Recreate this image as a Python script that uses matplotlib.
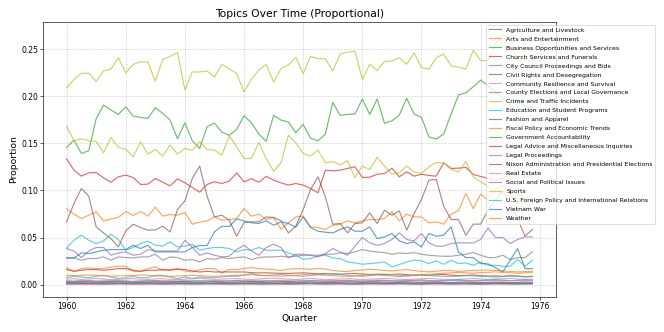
import matplotlib

matplotlib.use("Agg")
import matplotlib.pyplot as plt  # noqa: E402
import pandas as pd  # noqa: E402

# quarterly periods, 1960Q1 .. 1975Q4
periods = pd.period_range("1960Q1", "1975Q4", freq="Q")

agriculture = [
    0.0015, 0.0017, 0.0014, 0.0012, 0.0015, 0.0018, 0.0016, 0.0013,
    0.0015, 0.0017, 0.0019, 0.0016, 0.0014, 0.0016, 0.0018, 0.0015,
    0.0013, 0.0015, 0.0017, 0.0014, 0.0012, 0.0014, 0.0016, 0.0018,
    0.0015, 0.0013, 0.0015, 0.0017, 0.0014, 0.0012, 0.0015, 0.0017,
    0.0019, 0.0016, 0.0014, 0.0016, 0.0018, 0.0015, 0.0013, 0.0015,
    0.0017, 0.0014, 0.0012, 0.0014, 0.0016, 0.0018, 0.0015, 0.0013,
    0.0015, 0.0017, 0.0014, 0.0012, 0.0014, 0.0016, 0.0013, 0.0011,
    0.0014, 0.0016, 0.0013, 0.0011, 0.0013, 0.0015, 0.0012, 0.0013,
]
arts = [
    0.0805, 0.0748, 0.0702, 0.0737, 0.0773, 0.0677, 0.0698, 0.0713,
    0.0777, 0.0734, 0.0777, 0.0727, 0.0822, 0.0727, 0.0745, 0.0737,
    0.0766, 0.0642, 0.0663, 0.0677, 0.0719, 0.0684, 0.0691, 0.0702,
    0.0808, 0.0727, 0.0748, 0.0691, 0.0713, 0.0588, 0.0656, 0.0719,
    0.0727, 0.0613, 0.0606, 0.0585, 0.0631, 0.0642, 0.0677, 0.0656,
    0.0677, 0.0691, 0.0691, 0.0702, 0.0773, 0.0677, 0.0748, 0.0719,
    0.0719, 0.0656, 0.0666, 0.0642, 0.0748, 0.0784, 0.0968, 0.0808,
    0.0961, 0.0897, 0.102, 0.105, 0.095, 0.088, 0.080, 0.085,
]
business = [
    0.1457, 0.1535, 0.1393, 0.1421, 0.1762, 0.1907, 0.1854, 0.1808,
    0.189, 0.179, 0.1776, 0.1766, 0.1879, 0.1819, 0.1748, 0.1549,
    0.1719, 0.1528, 0.1447, 0.1677, 0.1716, 0.162, 0.1585, 0.1649,
    0.1794, 0.1719, 0.1599, 0.1521, 0.1798, 0.1748, 0.1727, 0.1613,
    0.1702, 0.1553, 0.1528, 0.1599, 0.1936, 0.1798, 0.1808, 0.1812,
    0.1971, 0.1808, 0.1971, 0.1713, 0.174, 0.1801, 0.1979, 0.1812,
    0.1776, 0.157, 0.1546, 0.1599, 0.1812, 0.2014, 0.2038, 0.2102,
    0.2173, 0.211, 0.205, 0.198, 0.192, 0.195, 0.190, 0.188,
]
church = [
    0.1336, 0.1216, 0.1152, 0.1187, 0.1191, 0.1134, 0.1088, 0.1145,
    0.1163, 0.1138, 0.1064, 0.1067, 0.1128, 0.1088, 0.1049, 0.1124,
    0.1081, 0.1032, 0.0982, 0.1064, 0.1092, 0.1074, 0.1099, 0.1187,
    0.1092, 0.1124, 0.1088, 0.1149, 0.111, 0.1081, 0.1057, 0.1074,
    0.1057, 0.1021, 0.0975, 0.1216, 0.1209, 0.1216, 0.1234, 0.1252,
    0.1138, 0.1141, 0.1173, 0.118, 0.1237, 0.1145, 0.1198, 0.1152,
    0.1173, 0.1159, 0.1152, 0.1294, 0.1234, 0.1237, 0.1245, 0.117,
    0.1149, 0.1128, 0.111, 0.113, 0.117, 0.120, 0.114, 0.118,
]
city_council = [
    0.0009, 0.0011, 0.0008, 0.001, 0.0012, 0.0009, 0.0007, 0.001,
    0.0011, 0.0009, 0.0008, 0.001, 0.0012, 0.001, 0.0008, 0.0009,
    0.0011, 0.0009, 0.0007, 0.0009, 0.0011, 0.0012, 0.001, 0.0008,
    0.0009, 0.0011, 0.0009, 0.0007, 0.0009, 0.0011, 0.001, 0.0008,
    0.001, 0.0012, 0.001, 0.0008, 0.0009, 0.0011, 0.0009, 0.0007,
    0.0009, 0.0011, 0.0012, 0.001, 0.0008, 0.0009, 0.0011, 0.0009,
    0.0008, 0.001, 0.0012, 0.001, 0.0008, 0.0009, 0.0011, 0.0009,
    0.0007, 0.0009, 0.0011, 0.001, 0.0008, 0.0009, 0.0011, 0.0009,
]
civil_rights = [
    0.0006, 0.0005, 0.0007, 0.0006, 0.0004, 0.0005, 0.0007, 0.0008,
    0.0006, 0.0005, 0.0006, 0.0007, 0.0005, 0.0004, 0.0006, 0.0007,
    0.0006, 0.0005, 0.0007, 0.0008, 0.0006, 0.0005, 0.0004, 0.0006,
    0.0007, 0.0006, 0.0005, 0.0006, 0.0007, 0.0005, 0.0004, 0.0006,
    0.0007, 0.0008, 0.0006, 0.0005, 0.0006, 0.0007, 0.0005, 0.0004,
    0.0006, 0.0007, 0.0006, 0.0005, 0.0007, 0.0008, 0.0006, 0.0005,
    0.0004, 0.0006, 0.0007, 0.0006, 0.0005, 0.0006, 0.0007, 0.0005,
    0.0004, 0.0006, 0.0007, 0.0008, 0.0006, 0.0005, 0.0006, 0.0007,
]
community = [
    0.0058, 0.0062, 0.0055, 0.006, 0.0065, 0.0058, 0.0052, 0.0056,
    0.006, 0.0064, 0.0058, 0.0055, 0.006, 0.0062, 0.0057, 0.0053,
    0.0058, 0.0062, 0.0066, 0.006, 0.0055, 0.0058, 0.0062, 0.0064,
    0.0058, 0.0055, 0.006, 0.0065, 0.0068, 0.0062, 0.0058, 0.0055,
    0.006, 0.0064, 0.0058, 0.0052, 0.0056, 0.006, 0.0063, 0.0058,
    0.0054, 0.0058, 0.0062, 0.0066, 0.0062, 0.0057, 0.0054, 0.0058,
    0.0061, 0.0065, 0.006, 0.0056, 0.0052, 0.0056, 0.006, 0.0064,
    0.0059, 0.0055, 0.0058, 0.0062, 0.0066, 0.006, 0.0056, 0.0058,
]
county = [
    0.0283, 0.0283, 0.0259, 0.0277, 0.0277, 0.0294, 0.0259, 0.0294,
    0.0287, 0.0283, 0.0294, 0.0294, 0.0322, 0.0259, 0.0294, 0.0287,
    0.0259, 0.0266, 0.0241, 0.0277, 0.0269, 0.0287, 0.0277, 0.0287,
    0.0294, 0.0266, 0.0287, 0.0294, 0.0294, 0.0301, 0.0294, 0.0301,
    0.0312, 0.0312, 0.0312, 0.0322, 0.0322, 0.0336, 0.033, 0.0347,
    0.0372, 0.0357, 0.0347, 0.034, 0.0322, 0.0336, 0.033, 0.034,
    0.0322, 0.0312, 0.0305, 0.0301, 0.0301, 0.0312, 0.0323, 0.034,
    0.0312, 0.0287, 0.0287, 0.0312, 0.0266, 0.0287, 0.0287, 0.0347,
]
crime = [
    0.1684, 0.1528, 0.1549, 0.1528, 0.1521, 0.14, 0.1564, 0.1457,
    0.1439, 0.1358, 0.1517, 0.1386, 0.1436, 0.1365, 0.1482, 0.1386,
    0.1447, 0.1426, 0.1517, 0.1436, 0.1429, 0.1376, 0.1581, 0.1464,
    0.134, 0.134, 0.1511, 0.134, 0.1205, 0.1294, 0.1588, 0.1505,
    0.1393, 0.1365, 0.1429, 0.1294, 0.1305, 0.1273, 0.1316, 0.1135,
    0.1259, 0.1223, 0.1351, 0.1259, 0.1173, 0.1188, 0.1259, 0.1198,
    0.118, 0.1252, 0.1298, 0.1291, 0.1227, 0.1198, 0.1308, 0.1145,
    0.1092, 0.1046, 0.100, 0.096, 0.093, 0.097, 0.092, 0.095,
]
education = [
    0.039, 0.0471, 0.0525, 0.0471, 0.0436, 0.0464, 0.0535, 0.0479,
    0.0365, 0.0394, 0.0436, 0.0461, 0.0418, 0.0408, 0.0454, 0.04,
    0.0408, 0.0429, 0.0365, 0.0383, 0.0394, 0.0394, 0.0383, 0.0347,
    0.0372, 0.0365, 0.0394, 0.0365, 0.0365, 0.0365, 0.0336, 0.0312,
    0.0269, 0.0277, 0.0305, 0.0312, 0.0283, 0.0277, 0.0241, 0.023,
    0.0216, 0.0223, 0.023, 0.0241, 0.0188, 0.0213, 0.0241, 0.0259,
    0.0252, 0.0223, 0.0252, 0.0215, 0.0259, 0.0223, 0.023, 0.0205,
    0.024, 0.0205, 0.0205, 0.0195, 0.0195, 0.0266, 0.0195, 0.0259,
]
fashion = [
    0.0028, 0.0025, 0.003, 0.0033, 0.0029, 0.0026, 0.0031, 0.0034,
    0.003, 0.0027, 0.0024, 0.0028, 0.0032, 0.0029, 0.0026, 0.003,
    0.0033, 0.0029, 0.0025, 0.0028, 0.0031, 0.0027, 0.0024, 0.0027,
    0.0031, 0.0034, 0.003, 0.0026, 0.0029, 0.0032, 0.0028, 0.0025,
    0.0028, 0.0031, 0.0027, 0.0024, 0.0027, 0.003, 0.0033, 0.0029,
    0.0026, 0.0029, 0.0032, 0.0028, 0.0025, 0.0028, 0.0031, 0.0027,
    0.0024, 0.0027, 0.003, 0.0026, 0.0023, 0.0026, 0.0029, 0.0025,
    0.0022, 0.0025, 0.0028, 0.0024, 0.0021, 0.0024, 0.0027, 0.0024,
]
fiscal = [
    0.0177, 0.0141, 0.017, 0.0177, 0.017, 0.017, 0.0188, 0.0195,
    0.0195, 0.0141, 0.0141, 0.017, 0.0188, 0.0152, 0.016, 0.017,
    0.0145, 0.0134, 0.016, 0.017, 0.017, 0.0124, 0.016, 0.016,
    0.017, 0.0181, 0.017, 0.0165, 0.0158, 0.015, 0.0162, 0.017,
    0.0168, 0.016, 0.0172, 0.0165, 0.015, 0.0142, 0.0138, 0.015,
    0.0155, 0.0162, 0.0158, 0.015, 0.0145, 0.0152, 0.016, 0.0148,
    0.014, 0.0135, 0.0142, 0.015, 0.0148, 0.014, 0.0145, 0.015,
    0.0152, 0.0155, 0.015, 0.0145, 0.014, 0.0135, 0.0138, 0.0142,
]
gov_accountability = [
    0.0035, 0.0032, 0.0038, 0.0041, 0.0036, 0.0033, 0.0037, 0.004,
    0.0036, 0.0032, 0.0035, 0.0039, 0.0042, 0.0038, 0.0034, 0.0031,
    0.0035, 0.0038, 0.0041, 0.0037, 0.0034, 0.0037, 0.004, 0.0044,
    0.0039, 0.0036, 0.0033, 0.0037, 0.0041, 0.0038, 0.0034, 0.0036,
    0.004, 0.0043, 0.0039, 0.0035, 0.0038, 0.0042, 0.0045, 0.004,
    0.0036, 0.0039, 0.0043, 0.0046, 0.0041, 0.0037, 0.004, 0.0044,
    0.0048, 0.0043, 0.0039, 0.0042, 0.0046, 0.0049, 0.0044, 0.004,
    0.0043, 0.0047, 0.0051, 0.0046, 0.0042, 0.0045, 0.0049, 0.0046,
]
legal_advice = [
    0.016, 0.0141, 0.0152, 0.016, 0.016, 0.0152, 0.016, 0.017,
    0.017, 0.0152, 0.0141, 0.0152, 0.0152, 0.016, 0.0152, 0.0163,
    0.016, 0.0145, 0.0134, 0.0141, 0.0134, 0.0134, 0.0134, 0.0134,
    0.0134, 0.0127, 0.0124, 0.0125, 0.0122, 0.012, 0.0118, 0.0122,
    0.0125, 0.012, 0.0115, 0.0118, 0.0112, 0.011, 0.0115, 0.0118,
    0.0112, 0.0108, 0.011, 0.0105, 0.0108, 0.0112, 0.0105, 0.010,
    0.0102, 0.0098, 0.0105, 0.0108, 0.010, 0.0095, 0.0098, 0.0102,
    0.0095, 0.009, 0.0092, 0.0088, 0.0095, 0.009, 0.0085, 0.0088,
]
legal_proceedings = [
    0.0383, 0.0357, 0.0287, 0.0357, 0.0394, 0.0394, 0.0312, 0.0336,
    0.0347, 0.0312, 0.0322, 0.0372, 0.0357, 0.0357, 0.0357, 0.0357,
    0.0471, 0.0394, 0.0312, 0.0336, 0.0312, 0.0294, 0.0301, 0.0372,
    0.0418, 0.0357, 0.0312, 0.0394, 0.0429, 0.0394, 0.0283, 0.0322,
    0.0322, 0.0312, 0.0294, 0.033, 0.0383, 0.0347, 0.0312, 0.0408,
    0.050, 0.0443, 0.0418, 0.0436, 0.0479, 0.0549, 0.0479, 0.0464,
    0.0543, 0.0443, 0.0408, 0.0408, 0.0436, 0.0444, 0.0443, 0.0443,
    0.0479, 0.0603, 0.050, 0.050, 0.0436, 0.0479, 0.0507, 0.0507,
]
nixon = [
    0.0666, 0.0862, 0.1021, 0.094, 0.0613, 0.0549, 0.0489, 0.040,
    0.057, 0.0642, 0.0606, 0.0578, 0.0581, 0.062, 0.056, 0.0798,
    0.0889, 0.1128, 0.1259, 0.094, 0.0719, 0.0737, 0.0684, 0.0514,
    0.066, 0.0666, 0.0666, 0.0719, 0.0713, 0.0677, 0.0549, 0.062,
    0.0798, 0.1011, 0.1145, 0.0932, 0.0642, 0.0649, 0.0549, 0.0649,
    0.0656, 0.0762, 0.0649, 0.079, 0.0737, 0.0783, 0.0578, 0.0755,
    0.0904, 0.111, 0.1117, 0.0833, 0.0691, 0.0691, 0.0524, 0.0642,
    0.0642, 0.079, 0.090, 0.100, 0.085, 0.070, 0.0514, 0.0585,
]
real_estate = [
    0.0042, 0.0038, 0.0045, 0.004, 0.0036, 0.0041, 0.0046, 0.0042,
    0.0038, 0.0035, 0.004, 0.0044, 0.0041, 0.0037, 0.0042, 0.0047,
    0.0043, 0.0039, 0.0036, 0.004, 0.0044, 0.0041, 0.0037, 0.0035,
    0.0039, 0.0043, 0.0046, 0.0042, 0.0038, 0.0041, 0.0045, 0.0048,
    0.0044, 0.004, 0.0037, 0.0041, 0.0045, 0.0042, 0.0038, 0.0036,
    0.004, 0.0044, 0.0047, 0.0043, 0.0039, 0.0042, 0.0046, 0.0043,
    0.0039, 0.0036, 0.004, 0.0043, 0.0047, 0.0044, 0.004, 0.0037,
    0.0041, 0.0045, 0.0042, 0.0038, 0.0041, 0.0044, 0.004, 0.0042,
]
social = [
    0.0021, 0.0019, 0.0022, 0.0024, 0.002, 0.0018, 0.0021, 0.0023,
    0.002, 0.0017, 0.0019, 0.0022, 0.0025, 0.0021, 0.0018, 0.002,
    0.0023, 0.0021, 0.0018, 0.0016, 0.0019, 0.0022, 0.002, 0.0017,
    0.0019, 0.0022, 0.0024, 0.0021, 0.0018, 0.002, 0.0023, 0.0021,
    0.0018, 0.0016, 0.0019, 0.0022, 0.0024, 0.0021, 0.0019, 0.0017,
    0.002, 0.0023, 0.0021, 0.0018, 0.002, 0.0022, 0.0019, 0.0017,
    0.0019, 0.0021, 0.0023, 0.002, 0.0018, 0.0016, 0.0019, 0.0021,
    0.0018, 0.0016, 0.0019, 0.0021, 0.0018, 0.0016, 0.0018, 0.0017,
]
sports = [
    0.209, 0.218, 0.2245, 0.2245, 0.216, 0.227, 0.229, 0.241,
    0.225, 0.234, 0.2365, 0.2365, 0.216, 0.239, 0.2425, 0.2464,
    0.2067, 0.2259, 0.2259, 0.227, 0.2205, 0.234, 0.229, 0.2245,
    0.2046, 0.2184, 0.2277, 0.234, 0.2152, 0.2295, 0.2335, 0.2415,
    0.224, 0.2425, 0.240, 0.240, 0.227, 0.245, 0.247, 0.248,
    0.218, 0.234, 0.2275, 0.237, 0.2375, 0.241, 0.234, 0.246,
    0.2305, 0.229, 0.241, 0.245, 0.2325, 0.231, 0.229, 0.249,
    0.238, 0.238, 0.256, 0.266, 0.250, 0.240, 0.232, 0.240,
]
us_foreign = [
    0.0074, 0.0088, 0.0081, 0.0074, 0.0088, 0.0099, 0.0081, 0.0064,
    0.0074, 0.0088, 0.0074, 0.0074, 0.0099, 0.0099, 0.0081, 0.0064,
    0.0081, 0.0064, 0.0081, 0.0074, 0.0074, 0.0081, 0.0088, 0.0088,
    0.0099, 0.0117, 0.0099, 0.0095, 0.0102, 0.0108, 0.0098, 0.0092,
    0.0088, 0.0095, 0.0105, 0.0112, 0.0118, 0.0108, 0.0098, 0.0092,
    0.0088, 0.0095, 0.0102, 0.0098, 0.0092, 0.0085, 0.009, 0.0098,
    0.0105, 0.0098, 0.0092, 0.0088, 0.0085, 0.009, 0.0095, 0.0092,
    0.0088, 0.0085, 0.008, 0.0085, 0.009, 0.0088, 0.0082, 0.0085,
]
vietnam = [
    0.0283, 0.0283, 0.0336, 0.033, 0.0347, 0.0365, 0.0372, 0.0372,
    0.0372, 0.0418, 0.0383, 0.0418, 0.0347, 0.0347, 0.0347, 0.0347,
    0.0347, 0.0395, 0.0415, 0.0415, 0.056, 0.062, 0.0617, 0.0698,
    0.0677, 0.0656, 0.0649, 0.0677, 0.0631, 0.0666, 0.0649, 0.061,
    0.0719, 0.0606, 0.0567, 0.0556, 0.0549, 0.0585, 0.0613, 0.0567,
    0.0567, 0.0613, 0.0489, 0.0507, 0.0543, 0.0464, 0.0436, 0.0454,
    0.040, 0.0543, 0.0514, 0.0525, 0.0613, 0.0347, 0.0287, 0.0287,
    0.0223, 0.022, 0.018, 0.0134, 0.026, 0.0383, 0.017, 0.017,
]
weather = [
    0.0099, 0.0095, 0.0099, 0.0102, 0.0098, 0.0095, 0.009, 0.0092,
    0.0095, 0.0099, 0.0102, 0.0098, 0.0092, 0.009, 0.0088, 0.0092,
    0.0095, 0.0098, 0.0095, 0.009, 0.0088, 0.0092, 0.0095, 0.0098,
    0.0102, 0.0105, 0.0098, 0.0095, 0.0092, 0.009, 0.0095, 0.010,
    0.0105, 0.011, 0.0105, 0.0098, 0.0095, 0.009, 0.0088, 0.0092,
    0.0098, 0.0102, 0.0108, 0.0112, 0.0105, 0.0098, 0.0095, 0.010,
    0.0105, 0.011, 0.0115, 0.012, 0.0125, 0.013, 0.0125, 0.012,
    0.0128, 0.013, 0.0135, 0.013, 0.0125, 0.012, 0.0125, 0.013,
]

topics = [
    ("Agriculture and Livestock", agriculture),
    ("Arts and Entertainment", arts),
    ("Business Opportunities and Services", business),
    ("Church Services and Funerals", church),
    ("City Council Proceedings and Bids", city_council),
    ("Civil Rights and Desegregation", civil_rights),
    ("Community Resilience and Survival", community),
    ("County Elections and Local Governance", county),
    ("Crime and Traffic Incidents", crime),
    ("Education and Student Programs", education),
    ("Fashion and Apparel", fashion),
    ("Fiscal Policy and Economic Trends", fiscal),
    ("Government Accountability", gov_accountability),
    ("Legal Advice and Miscellaneous Inquiries", legal_advice),
    ("Legal Proceedings", legal_proceedings),
    ("Nixon Administration and Presidential Elections", nixon),
    ("Real Estate", real_estate),
    ("Social and Political Issues", social),
    ("Sports", sports),
    ("U.S. Foreign Policy and International Relations", us_foreign),
    ("Vietnam War", vietnam),
    ("Weather", weather),
]

df = pd.DataFrame({name: vals for name, vals in topics})
df["quarter"] = periods.year + (periods.quarter - 1) / 4

fig = plt.figure(figsize=(12, 6), dpi=664 / 12)
ax = fig.add_axes([0.0652, 0.1063, 0.7717, 0.8283])
for name, _ in topics:
    ax.plot(df["quarter"], df[name], label=name, lw=1.5, alpha=0.7)

ax.set_title("Topics Over Time (Proportional)", fontsize=14)
ax.set_xlabel("Quarter", fontsize=12)
ax.set_ylabel("Proportion", fontsize=12)
ax.grid(True, linestyle="--", alpha=0.6)
ax.legend(loc="upper right", bbox_to_anchor=(1.2, 1), fontsize=8,
          labelspacing=0.6)

fig.savefig("out.png", dpi=fig.dpi)
plt.close(fig)
